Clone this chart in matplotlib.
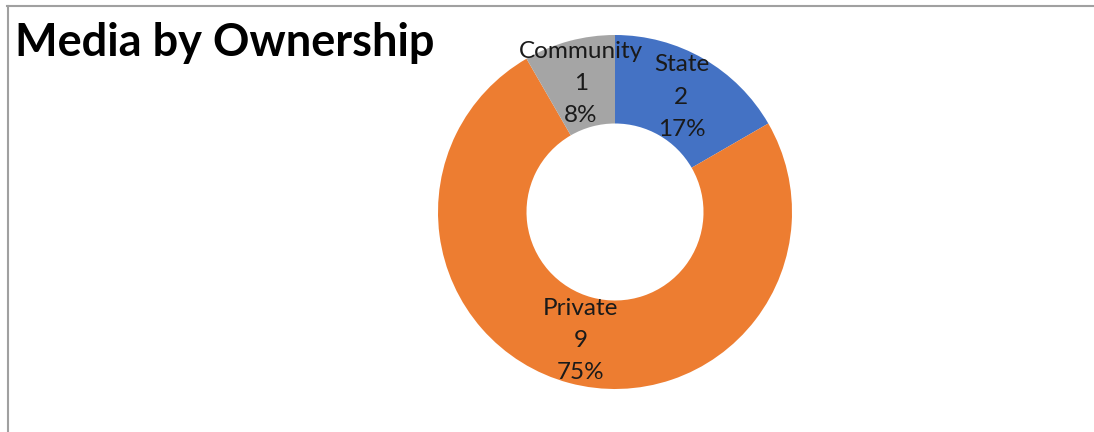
import numpy as np
from matplotlib import pyplot as plt
from matplotlib.lines import Line2D

categories = ['State', 'Private', 'Community']
counts = [2, 9, 1]
colors = ['#4472C4', '#ED7D31', '#A5A5A5']

W, H = 1094, 432
fig = plt.figure(figsize=(W / 100, H / 100), dpi=100)
fig.patch.set_facecolor('white')

# chart frame (top and left edges only)
fig.add_artist(Line2D([7 / W, 1094 / W], [1 - 5.5 / H, 1 - 5.5 / H],
                      transform=fig.transFigure, color='#A0A0A0', lw=1.5))
fig.add_artist(Line2D([7.5 / W, 7.5 / W], [0, 1 - 5.5 / H],
                      transform=fig.transFigure, color='#A0A0A0', lw=1.5))

fig.text(15 / W, 1 - 43 / H, 'Media by Ownership', fontsize=32.5, fontweight='bold',
         family=['Lato', 'DejaVu Sans'], color='black', va='center', ha='left')

cx, cy, r = 615, 212, 177
ax = fig.add_axes([(cx - r) / W, (H - cy - r) / H, 2 * r / W, 2 * r / H])
wedges, _ = ax.pie(counts, colors=colors, startangle=90, counterclock=False,
                   radius=1, wedgeprops=dict(width=0.5))
ax.set_xlim(-1, 1)
ax.set_ylim(-1, 1)
ax.set_aspect('equal')
ax.axis('off')

total = sum(counts)
for w, name, n in zip(wedges, categories, counts):
    ang = np.deg2rad((w.theta1 + w.theta2) / 2)
    x, y = 0.75 * np.cos(ang), 0.75 * np.sin(ang)
    pct = round(100 * n / total)
    ax.text(x, y, f'{name}\n{n}\n{pct}%', ha='center', va='center',
            fontsize=17.5, linespacing=1.65, color='#1a1a1a',
            family=['Lato', 'DejaVu Sans'])

plt.savefig('out.png', dpi=100, facecolor='white')
